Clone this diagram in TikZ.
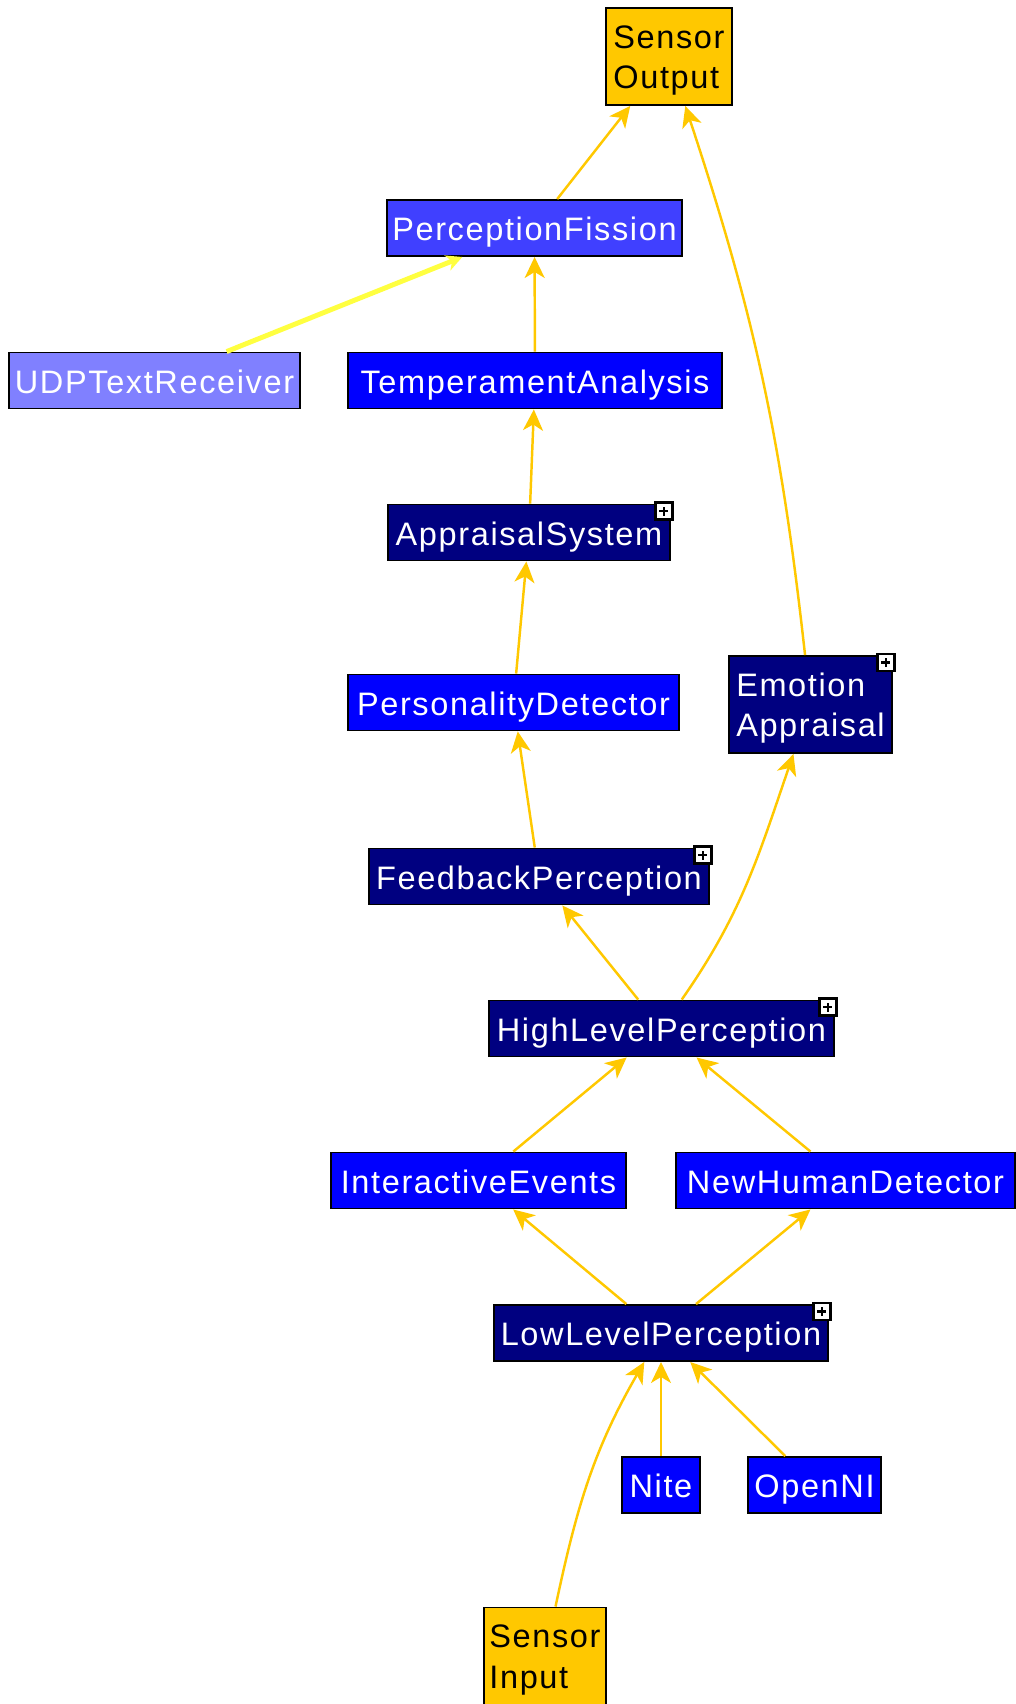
\documentclass[tikz,border=0pt]{standalone}
\usepackage{fontspec}
\newfontfamily\boxfont[LetterSpace=5]{Liberation Sans}
\usetikzlibrary{arrows.meta}

\definecolor{sensorgold}{RGB}{255,200,0}
\definecolor{fissionblue}{RGB}{64,64,255}
\definecolor{receiverblue}{RGB}{128,128,255}
\definecolor{plainblue}{RGB}{0,0,255}
\definecolor{groupnavy}{RGB}{0,0,128}
\definecolor{udpyellow}{RGB}{255,255,64}

\begin{document}
\begin{tikzpicture}[x=0.02cm, y=-0.02cm,
    box/.style={draw=black, line width=1.1pt, text=white, minimum height=1.12cm,
        text height=0.63cm, text depth=0.13cm,
        inner xsep=0.1cm, inner ysep=0.1cm, font=\boxfont\fontsize{18.5}{23}\selectfont},
    twoline/.style={align=left, minimum height=1.94cm, text height=1.42cm, text depth=0.13cm},
    sensor/.style={box, twoline, fill=sensorgold, text=black},
    comp/.style={box, fill=plainblue},
    group/.style={box, fill=groupnavy},
    plusbox/.style={draw=black, fill=white, line width=1.3pt, minimum size=0.34cm, inner sep=0pt,
        path picture={
            \draw[line width=1.4pt] ([xshift=-0.09cm]path picture bounding box.center)
                -- ([xshift=0.09cm]path picture bounding box.center);
            \draw[line width=1.4pt] ([yshift=-0.09cm]path picture bounding box.center)
                -- ([yshift=0.09cm]path picture bounding box.center);}},
    flow/.style={draw=sensorgold, line width=1.4pt,
        -{Stealth[length=0.42cm, width=0.4cm, inset=0.12cm]}},
    udpflow/.style={draw=udpyellow, line width=2.8pt,
        -{Stealth[length=0.32cm, width=0.32cm, inset=0.1cm]}}]

    \useasboundingbox (0,0) rectangle (1015,1704);

    % sensor ends
    \node[sensor, minimum width=2.52cm] (so) at (669,56.5) {Sensor\\Output};
    \node[sensor, minimum width=2.44cm] (si) at (545,1656) {Sensor\\Input};

    % components, top to bottom
    \node[box, fill=fissionblue, minimum width=5.86cm] (pf) at (534.5,228) {PerceptionFission};
    \node[box, fill=receiverblue, minimum width=5.82cm] (udp) at (154.5,380.5) {UDPTextReceiver};
    \node[comp, minimum width=7.48cm] (ta) at (535,380.5) {TemperamentAnalysis};
    \node[group, minimum width=5.64cm] (as) at (529,532.5) {AppraisalSystem};
    \node[comp, minimum width=6.62cm] (pd) at (513.5,702.5) {PersonalityDetector};
    \node[group, twoline, minimum width=3.26cm] (ea) at (810.5,704.5) {Emotion\\Appraisal};
    \node[group, minimum width=6.8cm] (fp) at (539,876.5) {FeedbackPerception};
    \node[group, minimum width=6.9cm] (hl) at (661.5,1028.5) {HighLevelPerception};
    \node[comp, minimum width=5.9cm] (ie) at (478.5,1180.5) {InteractiveEvents};
    \node[comp, minimum width=6.78cm] (nh) at (845.5,1180.5) {NewHumanDetector};
    \node[group, minimum width=6.68cm] (ll) at (661,1333) {LowLevelPerception};
    \node[comp, minimum width=1.56cm] (nite) at (661,1485) {Nite};
    \node[comp, minimum width=2.66cm] (oni) at (814.5,1485) {OpenNI};

    % expand markers on the grouped components
    \node[plusbox] (as-plus) at ([xshift=-0.14cm, yshift=-0.15cm]as.north east) {};
    \node[plusbox] (ea-plus) at ([xshift=-0.14cm, yshift=-0.15cm]ea.north east) {};
    \node[plusbox] (fp-plus) at ([xshift=-0.14cm, yshift=-0.15cm]fp.north east) {};
    \node[plusbox] (hl-plus) at ([xshift=-0.14cm, yshift=-0.15cm]hl.north east) {};
    \node[plusbox] (ll-plus) at ([xshift=-0.14cm, yshift=-0.15cm]ll.north east) {};

    % data flow
    \draw[flow] (pf) -- (so);
    \draw[flow] (ea) to[bend right=6] (so);
    \draw[udpflow] (udp) -- (pf);
    \draw[flow] (ta) -- (pf);
    \draw[flow] (as) -- (ta);
    \draw[flow] (pd) -- (as);
    \draw[flow] (fp) -- (pd);
    \draw[flow] (hl) -- (fp);
    \draw[flow] (hl) to[out=55, in=251] (ea);
    \draw[flow] (ie) -- (hl);
    \draw[flow] (nh) -- (hl);
    \draw[flow] (ll) -- (ie);
    \draw[flow] (ll) -- (nh);
    \draw[flow] (nite) -- (ll);
    \draw[flow] (oni) -- (ll);
    \draw[flow] (si) to[out=78, in=240] (ll);

\end{tikzpicture}
\end{document}
